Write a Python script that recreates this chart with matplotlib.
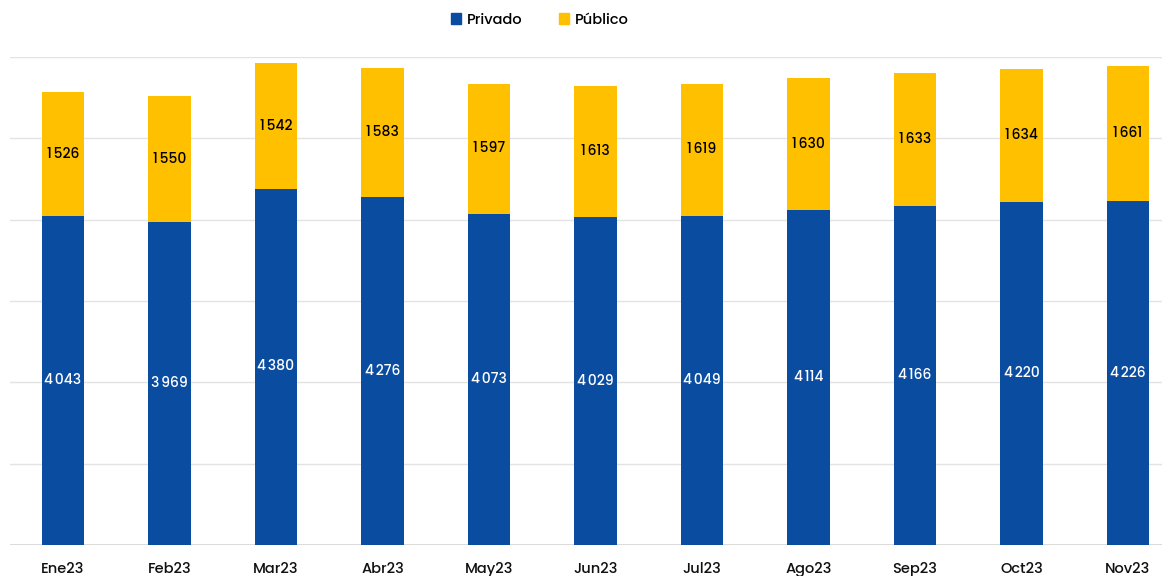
import matplotlib
matplotlib.use("Agg")
import matplotlib.pyplot as plt
from matplotlib.patches import Patch

months = ["Ene23", "Feb23", "Mar23", "Abr23", "May23", "Jun23",
          "Jul23", "Ago23", "Sep23", "Oct23", "Nov23"]
privado = [4043, 3969, 4380, 4276, 4073, 4029, 4049, 4114, 4166, 4220, 4226]
publico = [1526, 1550, 1542, 1583, 1597, 1613, 1619, 1630, 1633, 1634, 1661]

BLUE = "#0A4CA0"
YELLOW = "#FFC000"

plt.rcParams["font.family"] = ["Poppins", "Lato", "DejaVu Sans"]


def fmt(v):
    # thousands separated by a thin space
    return f"{v:,}".replace(",", "\u2009")


fig = plt.figure(figsize=(11.68, 5.76), dpi=100)
ax = fig.add_axes([10 / 1168, 31 / 576, 1152 / 1168, 488 / 576])

x = list(range(len(months)))
w = 0.40
ax.bar(x, privado, width=w, color=BLUE, zorder=3)
ax.bar(x, publico, width=w, bottom=privado, color=YELLOW, zorder=3)

for i, (p, q) in enumerate(zip(privado, publico)):
    ax.text(i, p / 2, fmt(p), ha="center", va="center", color="white",
            fontsize=10, fontweight="medium", zorder=4)
    ax.text(i, p + q / 2, fmt(q), ha="center", va="center", color="black",
            fontsize=10, fontweight="medium", zorder=4)

ax.set_xlim(-0.498, 10.32)
ax.set_ylim(0, 6000)
ax.set_yticks(range(0, 7000, 1000))
ax.yaxis.grid(True, color="#e3e3e3", linewidth=1.0, zorder=0)
ax.axhline(0, color="#d6d6d6", linewidth=1.2, zorder=2)
ax.tick_params(axis="y", left=False, labelleft=False)
ax.tick_params(axis="x", bottom=False, labelsize=10.5, pad=9, colors="#111111")
ax.set_xticks(x)
ax.set_xticklabels(months, fontweight="medium")
for s in ax.spines.values():
    s.set_visible(False)

handles = [Patch(color=BLUE, label="Privado"), Patch(color=YELLOW, label="Público")]
leg = fig.legend(handles=handles, loc="center", bbox_to_anchor=(540 / 1168, 1 - 20 / 576),
                 ncol=2, frameon=False, fontsize=10.5, handlelength=0.7, handleheight=0.7,
                 handletextpad=0.4, columnspacing=2.5)
for t in leg.get_texts():
    t.set_fontweight("medium")

fig.savefig("out.png", dpi=100)
